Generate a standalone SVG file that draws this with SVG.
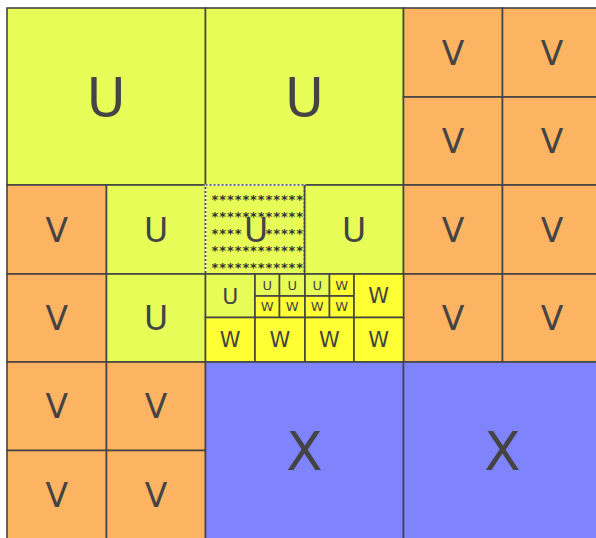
<svg xmlns="http://www.w3.org/2000/svg" width="596" height="538" viewBox="0 0 596 538">
<style>
rect{stroke:#444;stroke-width:1.6}
.u{fill:#e8fc58}
.v{fill:#fdb462}
.x{fill:#7f83fc}
.w{fill:#ffff33}
text{font-family:"DejaVu Sans",sans-serif;fill:#444;text-anchor:middle}
.big{font-size:53px}
.med{font-size:33px}
.s22{font-size:22px}
.s21{font-size:21px}
.s13{font-size:13px}
.star{font-size:13px;fill:#333;font-weight:bold}
</style>
<rect x="0" y="0" width="596" height="538" style="fill:#fff;stroke:none"/>
<g id="nodes">
<g id="u1"><rect class="u" x="7" y="8" width="198.5" height="177"/><text class="big" x="106.25" y="115.5">U</text></g>
<g id="u2"><rect class="u" x="205.5" y="8" width="198" height="177"/><text class="big" x="304.5" y="115.5">U</text></g>
<g id="v1"><rect class="v" x="403.5" y="8" width="99" height="89"/><text class="med" x="453" y="64.5">V</text></g>
<g id="v2"><rect class="v" x="502.5" y="8" width="99" height="89"/><text class="med" x="552" y="64.5">V</text></g>
<g id="v3"><rect class="v" x="403.5" y="97" width="99" height="88"/><text class="med" x="453" y="153">V</text></g>
<g id="v4"><rect class="v" x="502.5" y="97" width="99" height="88"/><text class="med" x="552" y="153">V</text></g>

<g id="v5"><rect class="v" x="7" y="185" width="99.5" height="89"/><text class="med" x="56.75" y="241.5">V</text></g>
<g id="u3"><rect class="u" x="106.5" y="185" width="99" height="89"/><text class="med" x="156" y="241.5">U</text></g>
<g id="u5"><rect class="u" x="304.5" y="185" width="99" height="89"/><text class="med" x="354" y="241.5">U</text></g>
<g id="v6"><rect class="v" x="403.5" y="185" width="99" height="89"/><text class="med" x="453" y="241.5">V</text></g>
<g id="v7"><rect class="v" x="502.5" y="185" width="99" height="89"/><text class="med" x="552" y="241.5">V</text></g>
<g id="u4">
<rect x="205.5" y="185" width="99" height="89" style="fill:#e8fc58;stroke:#fff"/>
<rect x="205.5" y="185" width="99" height="89" style="fill:none;stroke-dasharray:2 2"/>
<line x1="304.5" y1="185" x2="304.5" y2="274" stroke="#444" stroke-width="1.6"/>
<line x1="205.5" y1="274" x2="304.5" y2="274" stroke="#444" stroke-width="1.6"/>
<text class="star" x="215 222.7 230.4 238.1 245.8 253.5 261.2 268.9 276.6 284.3 292 299.7" y="204">************</text>
<text class="star" x="215 222.7 230.4 238.1 245.8 253.5 261.2 268.9 276.6 284.3 292 299.7" y="221">************</text>
<text class="star" x="215 222.7 230.4 238.1 268.9 276.6 284.3 292 299.7" y="238">*********</text>
<text class="star" x="215 222.7 230.4 238.1 245.8 253.5 261.2 268.9 276.6 284.3 292 299.7" y="255">************</text>
<text class="star" x="215 222.7 230.4 238.1 245.8 253.5 261.2 268.9 276.6 284.3 292 299.7" y="271.5">************</text>
<text class="med" x="256" y="242">U</text>
</g>

<g id="v8"><rect class="v" x="7" y="274" width="99.5" height="88"/><text class="med" x="56.75" y="330">V</text></g>
<g id="u6"><rect class="u" x="106.5" y="274" width="99" height="88"/><text class="med" x="156" y="330">U</text></g>
<g id="v9"><rect class="v" x="403.5" y="274" width="99" height="88"/><text class="med" x="453" y="330">V</text></g>
<g id="v10"><rect class="v" x="502.5" y="274" width="99" height="88"/><text class="med" x="552" y="330">V</text></g>

<g id="u7"><rect class="u" x="205.5" y="274" width="49.5" height="43.5"/><text class="s22" x="230.25" y="303.5">U</text></g>
<g id="u8"><rect class="u" x="255" y="274" width="24.5" height="22"/><text class="s13" x="267.25" y="289.8">U</text></g>
<g id="u9"><rect class="u" x="279.5" y="274" width="25.5" height="22"/><text class="s13" x="292.25" y="289.8">U</text></g>
<g id="u10"><rect class="u" x="305" y="274" width="24.5" height="22"/><text class="s13" x="317.25" y="289.8">U</text></g>
<g id="w1"><rect class="w" x="329.5" y="274" width="24.5" height="22"/><text class="s13" x="341.75" y="289.8">W</text></g>
<g id="w2"><rect class="w" x="255" y="296" width="24.5" height="21.5"/><text class="s13" x="267.25" y="311.3">W</text></g>
<g id="w3"><rect class="w" x="279.5" y="296" width="25.5" height="21.5"/><text class="s13" x="292.25" y="311.3">W</text></g>
<g id="w4"><rect class="w" x="305" y="296" width="24.5" height="21.5"/><text class="s13" x="317.25" y="311.3">W</text></g>
<g id="w5"><rect class="w" x="329.5" y="296" width="24.5" height="21.5"/><text class="s13" x="341.75" y="311.3">W</text></g>
<g id="w6"><rect class="w" x="354" y="274" width="49.5" height="43.5"/><text class="s21" x="378.75" y="303">W</text></g>
<g id="w7"><rect class="w" x="205.5" y="317.5" width="49.5" height="44.5"/><text class="s21" x="230.25" y="347">W</text></g>
<g id="w8"><rect class="w" x="255" y="317.5" width="50" height="44.5"/><text class="s21" x="280" y="347">W</text></g>
<g id="w9"><rect class="w" x="305" y="317.5" width="49" height="44.5"/><text class="s21" x="329.5" y="347">W</text></g>
<g id="w10"><rect class="w" x="354" y="317.5" width="49.5" height="44.5"/><text class="s21" x="378.75" y="347">W</text></g>

<g id="v11"><rect class="v" x="7" y="362" width="99.5" height="88.5"/><text class="med" x="56.75" y="418">V</text></g>
<g id="v12"><rect class="v" x="106.5" y="362" width="99" height="88.5"/><text class="med" x="156" y="418">V</text></g>
<g id="v13"><rect class="v" x="7" y="450.5" width="99.5" height="90"/><text class="med" x="56.75" y="506.5">V</text></g>
<g id="v14"><rect class="v" x="106.5" y="450.5" width="99" height="90"/><text class="med" x="156" y="506.5">V</text></g>
<g id="x1"><rect class="x" x="205.5" y="362" width="198" height="178"/><text class="big" x="304.5" y="470">X</text></g>
<g id="x2"><rect class="x" x="403.5" y="362" width="198" height="178"/><text class="big" x="502.5" y="470">X</text></g>
</g>
<g id="connectors"></g>
</svg>
